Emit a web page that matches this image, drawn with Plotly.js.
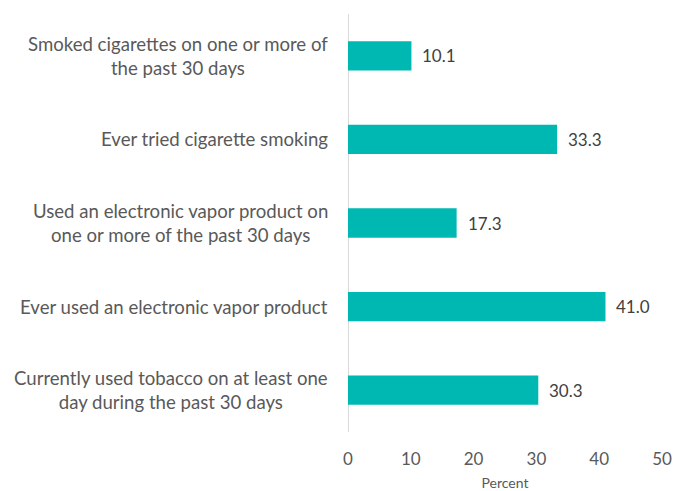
<!DOCTYPE html>
<html><head><meta charset="utf-8">
<script src="https://cdn.plot.ly/plotly-3.0.1.min.js"></script>
<style>body{margin:0;background:#fff}#c{width:677px;height:491px}</style>
</head><body><div id="c"></div>
<script>
var categories = [
  "Smoked cigarettes on one or more of<br>the past 30 days",
  "Ever tried cigarette smoking",
  "Used an electronic vapor product on<br>one or more of the past 30 days",
  "Ever used an electronic vapor product",
  "Currently used tobacco on at least one<br>day during the past 30 days"
];
var values = [10.1, 33.3, 17.3, 41.0, 30.3];
var xTicks = [0, 10, 20, 30, 40, 50];

var FONT = "Lato, 'Open Sans', sans-serif";
var ann = [];
categories.forEach(function(c, i){
  ann.push({xref:'paper', yref:'y', x:0, y:i, xshift:-18, xanchor:'right', yanchor:'middle',
    text:c, align:'center', showarrow:false, font:{family:FONT, size:18.6, color:'#595959'}});
  ann.push({xref:'x', yref:'y', x:values[i], y:i, xshift:9, xanchor:'left', yanchor:'middle',
    text:values[i].toFixed(1), showarrow:false, font:{family:FONT, size:17, color:'#404040'}});
});

Plotly.newPlot('c', [{
  type:'bar', orientation:'h',
  x: values, y: categories.map(function(_, i){return i;}),
  marker:{color:'#00B8B2'},
  hoverinfo:'none'
}], {
  width:677, height:491,
  margin:{l:348, r:14.5, t:14, b:59},
  paper_bgcolor:'#fff', plot_bgcolor:'#fff',
  bargap:0.65,
  showlegend:false,
  font:{family:FONT, color:'#595959'},
  xaxis:{range:[0,50], tickvals:xTicks, showgrid:false, zeroline:true, zerolinecolor:'#d9d9d9', zerolinewidth:1,
    showline:false, ticks:'outside', ticklen:12, tickcolor:'rgba(0,0,0,0)',
    tickfont:{family:FONT, size:17, color:'#595959'},
    title:{text:'Percent', font:{family:FONT, size:14, color:'#595959'}, standoff:11}, fixedrange:true},
  yaxis:{range:[4.5,-0.5], showticklabels:false, showgrid:false, zeroline:false, showline:false, ticks:'', fixedrange:true},
  annotations: ann
}, {displayModeBar:false, staticPlot:true});
</script></body></html>
